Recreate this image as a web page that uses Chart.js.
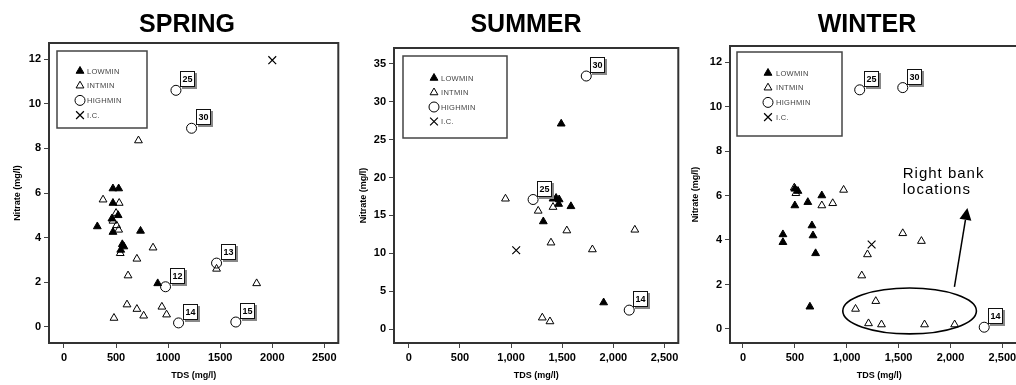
<!DOCTYPE html>
<html>
<head>
<meta charset="utf-8">
<script src="https://cdn.jsdelivr.net/npm/chart.js@4.4.1/dist/chart.umd.min.js"></script>
<style>
  html, body { margin: 0; padding: 0; background: #fff; overflow: hidden; width: 1016px; height: 385px; }
  canvas { position: absolute; top: 0; }
</style>
</head>
<body>
<canvas id="spring" width="345" height="385" style="left:0px"></canvas>
<canvas id="summer" width="340" height="385" style="left:345px"></canvas>
<canvas id="winter" width="350" height="385" style="left:685px"></canvas>
<script>
// groups of sampling sites by mineralisation
const groups = ['LOWMIN', 'INTMIN', 'HIGHMIN', 'I.C.'];

// TDS (mg/l), nitrate (mg/l) pairs
const springLow = [[470, 6.2], [525, 6.2], [470, 5.55], [520, 5.0], [460, 4.85], [320, 4.5], [470, 4.25], [735, 4.3], [560, 3.7], [575, 3.6], [545, 3.45], [900, 1.95]];
const springInt = [[715, 8.35], [375, 5.7], [530, 5.55], [500, 5.1], [470, 4.75], [505, 4.55], [525, 4.35], [540, 3.3], [855, 3.55], [700, 3.05], [615, 2.3], [605, 1.0], [480, 0.4], [700, 0.8], [765, 0.5], [940, 0.9], [985, 0.55], [1465, 2.6], [1850, 1.95]];
const springHigh = [[1075, 10.6], [1225, 8.9], [1465, 2.86], [975, 1.8], [1100, 0.18], [1650, 0.22]];
const springHighSites = ['25', '30', '13', '12', '14', '15'];
const springIc = [[2000, 11.95]];

const summerLow = [[1490, 27.1], [1410, 17.2], [1440, 17.3], [1470, 17.1], [1465, 16.5], [1585, 16.2], [1315, 14.2], [1905, 3.5]];
const summerInt = [[945, 17.2], [1265, 15.6], [1410, 16.1], [1545, 13.0], [1390, 11.4], [1795, 10.5], [2210, 13.1], [1305, 1.5], [1380, 1.0]];
const summerHigh = [[1735, 33.4], [1215, 17.1], [2155, 2.5]];
const summerHighSites = ['30', '25', '14'];
const summerIc = [[1050, 10.4]];

const winterLow = [[500, 6.3], [530, 6.2], [500, 5.55], [760, 6.0], [625, 5.7], [665, 4.65], [675, 4.2], [700, 3.4], [385, 4.25], [385, 3.9], [645, 1.0]];
const winterInt = [[495, 6.35], [510, 6.1], [760, 5.55], [865, 5.65], [970, 6.25], [1540, 4.3], [1720, 3.95], [1200, 3.35], [1145, 2.4], [1280, 1.25], [1085, 0.9], [1210, 0.25], [1335, 0.2], [1750, 0.2], [2040, 0.2]];
const winterHigh = [[1125, 10.75], [1540, 10.85], [2325, 0.08]];
const winterHighSites = ['25', '30', '14'];
const winterIc = [[1240, 3.8]];

// axis ticks
const tdsTicks = [0, 500, 1000, 1500, 2000, 2500];
const tdsLabelsPlain = ['0', '500', '1000', '1500', '2000', '2500'];
const tdsLabelsComma = ['0', '500', '1,000', '1,500', '2,000', '2,500'];
const nitrateTicks12 = [0, 2, 4, 6, 8, 10, 12];
const nitrateTicks35 = [0, 5, 10, 15, 20, 25, 30, 35];

const FONT = "'Liberation Sans', Arial, sans-serif";

const toPoints = pairs => pairs.map(([x, y]) => ({ x, y }));

function makeDatasets(low, int, high, ic) {
  return [
    { label: groups[0], data: toPoints(low), pointStyle: 'triangle', pointRadius: 4.5, backgroundColor: '#000', borderColor: '#000', borderWidth: 1 },
    { label: groups[1], data: toPoints(int), pointStyle: 'triangle', pointRadius: 4.5, backgroundColor: 'rgba(0,0,0,0)', borderColor: '#000', borderWidth: 1 },
    { label: groups[2], data: toPoints(high), pointStyle: 'circle', pointRadius: 5, backgroundColor: 'rgba(0,0,0,0)', borderColor: '#000', borderWidth: 1 },
    { label: groups[3], data: toPoints(ic), pointStyle: 'crossRot', pointRadius: 5.5, backgroundColor: 'rgba(0,0,0,0)', borderColor: '#000', borderWidth: 1.2 }
  ];
}

// plot frame on all four sides
const framePlugin = {
  id: 'frame',
  beforeDatasetsDraw(chart) {
    const { ctx, chartArea: a } = chart;
    ctx.save();
    ctx.strokeStyle = '#333';
    ctx.lineWidth = 2;
    ctx.strokeRect(a.left, a.top, a.right - a.left, a.bottom - a.top);
    ctx.restore();
  }
};

const panelTitle = {
  id: 'panelTitle',
  afterDraw(chart, args, opts) {
    const ctx = chart.ctx;
    ctx.save();
    ctx.font = `bold 25px ${FONT}`;
    ctx.fillStyle = '#000';
    ctx.textAlign = 'center';
    ctx.textBaseline = 'alphabetic';
    ctx.fillText(opts.text, opts.x, 32);
    ctx.restore();
  }
};

// boxed legend drawn inside the plot
const boxLegend = {
  id: 'boxLegend',
  afterDatasetsDraw(chart, args, opts) {
    const { ctx, chartArea: a } = chart;
    const x0 = a.left + opts.left, y0 = a.top + opts.top;
    ctx.save();
    ctx.fillStyle = '#fff';
    ctx.fillRect(x0, y0, opts.width, opts.height);
    ctx.strokeStyle = '#444';
    ctx.lineWidth = 1.5;
    ctx.strokeRect(x0, y0, opts.width, opts.height);
    chart.data.datasets.forEach((ds, i) => {
      const y = y0 + opts.firstRow + i * opts.rowGap;
      ctx.fillStyle = ds.backgroundColor;
      ctx.strokeStyle = ds.borderColor;
      ctx.lineWidth = ds.borderWidth;
      Chart.helpers.drawPoint(ctx, { pointStyle: ds.pointStyle, radius: ds.pointRadius, borderWidth: ds.borderWidth }, x0 + opts.markerX, y);
      ctx.fillStyle = '#444';
      ctx.font = `7.5px ${FONT}`;
      ctx.letterSpacing = '0.3px';
      ctx.textAlign = 'left';
      ctx.textBaseline = 'middle';
      ctx.fillText(ds.label, x0 + opts.textX, y + 0.5);
    });
    ctx.restore();
  }
};

// site numbers in small boxes next to the HIGHMIN points
const siteBoxes = {
  id: 'siteBoxes',
  afterDatasetsDraw(chart, args, opts) {
    const ctx = chart.ctx;
    const meta = chart.getDatasetMeta(2);
    ctx.save();
    meta.data.forEach((pt, i) => {
      const w = 15, h = 16;
      const x = Math.round(pt.x + 4), y = Math.round(pt.y - 3 - h);
      ctx.fillStyle = '#888';
      ctx.fillRect(x + 2, y + 2, w, h);
      ctx.fillStyle = '#fff';
      ctx.fillRect(x, y, w, h);
      ctx.strokeStyle = '#111';
      ctx.lineWidth = 1;
      ctx.strokeRect(x + 0.5, y + 0.5, w - 1, h - 1);
      ctx.fillStyle = '#000';
      ctx.font = `bold 9px ${FONT}`;
      ctx.textAlign = 'center';
      ctx.textBaseline = 'middle';
      ctx.fillText(opts.sites[i], x + w / 2, y + h / 2 + 0.5);
    });
    ctx.restore();
  }
};

// ellipse, arrow and note for the right bank sites
const bankNote = {
  id: 'bankNote',
  afterDatasetsDraw(chart, args, opts) {
    if (!opts.ellipse) return;
    const { ctx, scales: { x, y } } = chart;
    const e = opts.ellipse;
    const cx = x.getPixelForValue(e.x), cy = y.getPixelForValue(e.y);
    const rx = x.getPixelForValue(e.x + e.rx) - cx;
    const ry = cy - y.getPixelForValue(e.y + e.ry);
    ctx.save();
    ctx.strokeStyle = '#000';
    ctx.lineWidth = 1.6;
    ctx.beginPath();
    ctx.ellipse(cx, cy, rx, ry, 0, 0, 2 * Math.PI);
    ctx.stroke();

    const tx = x.getPixelForValue(opts.arrow.from[0]), ty = y.getPixelForValue(opts.arrow.from[1]);
    const hx = x.getPixelForValue(opts.arrow.to[0]), hy = y.getPixelForValue(opts.arrow.to[1]);
    const ang = Math.atan2(hy - ty, hx - tx);
    const len = 12, half = 6;
    const bx = hx - Math.cos(ang) * len, by = hy - Math.sin(ang) * len;
    ctx.lineWidth = 1.5;
    ctx.beginPath();
    ctx.moveTo(tx, ty);
    ctx.lineTo(bx, by);
    ctx.stroke();
    ctx.fillStyle = '#000';
    ctx.beginPath();
    ctx.moveTo(hx, hy);
    ctx.lineTo(bx + Math.sin(ang) * half, by - Math.cos(ang) * half);
    ctx.lineTo(bx - Math.sin(ang) * half, by + Math.cos(ang) * half);
    ctx.closePath();
    ctx.fill();

    ctx.font = `15px ${FONT}`;
    ctx.letterSpacing = '1px';
    ctx.textAlign = 'left';
    ctx.textBaseline = 'alphabetic';
    const nx = x.getPixelForValue(opts.note.x), ny = y.getPixelForValue(opts.note.y);
    opts.note.lines.forEach((line, i) => ctx.fillText(line, nx, ny + i * 16));
    ctx.restore();
  }
};

function makeScales(p) {
  const tickFont = { family: FONT, size: 11, weight: 'bold' };
  const titleFont = { family: FONT, size: 9, weight: 'bold' };
  return {
    x: {
      type: 'linear', min: p.xMin, max: p.xMax,
      afterBuildTicks: s => { s.ticks = tdsTicks.map(v => ({ value: v })); },
      afterFit: s => { s.height = 42; },
      ticks: { callback: (v, i) => p.xLabels[i], autoSkip: false, maxRotation: 0, padding: 3, color: '#000', font: tickFont },
      grid: { drawOnChartArea: false, tickLength: 5, color: '#444' },
      border: { display: false },
      title: { display: true, text: 'TDS (mg/l)', color: '#000', font: titleFont, padding: { top: 0, bottom: 4 } }
    },
    y: {
      type: 'linear', min: p.yMin, max: p.yMax,
      afterBuildTicks: s => { s.ticks = p.yTicks.map(v => ({ value: v })); },
      afterFit: s => { s.width = p.yWidth; },
      ticks: { callback: v => String(v), autoSkip: false, padding: 3, color: '#000', font: tickFont },
      grid: { drawOnChartArea: false, tickLength: 5, color: '#444' },
      border: { display: false },
      title: { display: true, text: 'Nitrate (mg/l)', color: '#000', font: titleFont, padding: { top: p.yTitlePad, bottom: 0 } }
    }
  };
}

function makePanel(id, p) {
  new Chart(document.getElementById(id), {
    type: 'scatter',
    data: { datasets: makeDatasets(p.low, p.int, p.high, p.ic) },
    options: {
      responsive: false,
      animation: false,
      events: [],
      layout: { padding: { top: p.top, right: p.right, left: 0, bottom: 0 } },
      scales: makeScales(p),
      plugins: {
        legend: { display: false },
        tooltip: { enabled: false },
        panelTitle: { text: p.title, x: p.titleX },
        boxLegend: p.legend,
        siteBoxes: { sites: p.sites },
        bankNote: p.note || {}
      }
    },
    plugins: [framePlugin, boxLegend, siteBoxes, bankNote, panelTitle]
  });
}

makePanel('spring', {
  title: 'SPRING', titleX: 187,
  low: springLow, int: springInt, high: springHigh, ic: springIc, sites: springHighSites,
  xMin: -144, xMax: 2634, yMin: -0.72, yMax: 12.72, yTicks: nitrateTicks12, xLabels: tdsLabelsPlain,
  top: 43, right: 6, yWidth: 49, yTitlePad: 12,
  legend: { left: 8, top: 8, width: 90, height: 77, markerX: 23, textX: 30, firstRow: 20, rowGap: 14.7 }
});

makePanel('summer', {
  title: 'SUMMER', titleX: 181,
  low: summerLow, int: summerInt, high: summerHigh, ic: summerIc, sites: summerHighSites,
  xMin: -145, xMax: 2635, yMin: -1.84, yMax: 37.1, yTicks: nitrateTicks35, xLabels: tdsLabelsComma,
  top: 48, right: 3, yWidth: 49, yTitlePad: 13,
  legend: { left: 9, top: 8, width: 104, height: 82, markerX: 31, textX: 38, firstRow: 22, rowGap: 14.5 }
});

makePanel('winter', {
  title: 'WINTER', titleX: 182,
  low: winterLow, int: winterInt, high: winterHigh, ic: winterIc, sites: winterHighSites,
  xMin: -125, xMax: 2750, yMin: -0.63, yMax: 12.72, yTicks: nitrateTicks12, xLabels: tdsLabelsComma,
  top: 46, right: 6, yWidth: 45, yTitlePad: 5,
  legend: { left: 7, top: 6, width: 105, height: 84, markerX: 31, textX: 39, firstRow: 21, rowGap: 14.7 },
  note: {
    ellipse: { x: 1606, y: 0.81, rx: 644, ry: 1.03 },
    arrow: { from: [2038, 1.89], to: [2163, 5.44] },
    note: { x: 1540, y: 6.79, lines: ['Right bank', 'locations'] }
  }
});
</script>
</body>
</html>
